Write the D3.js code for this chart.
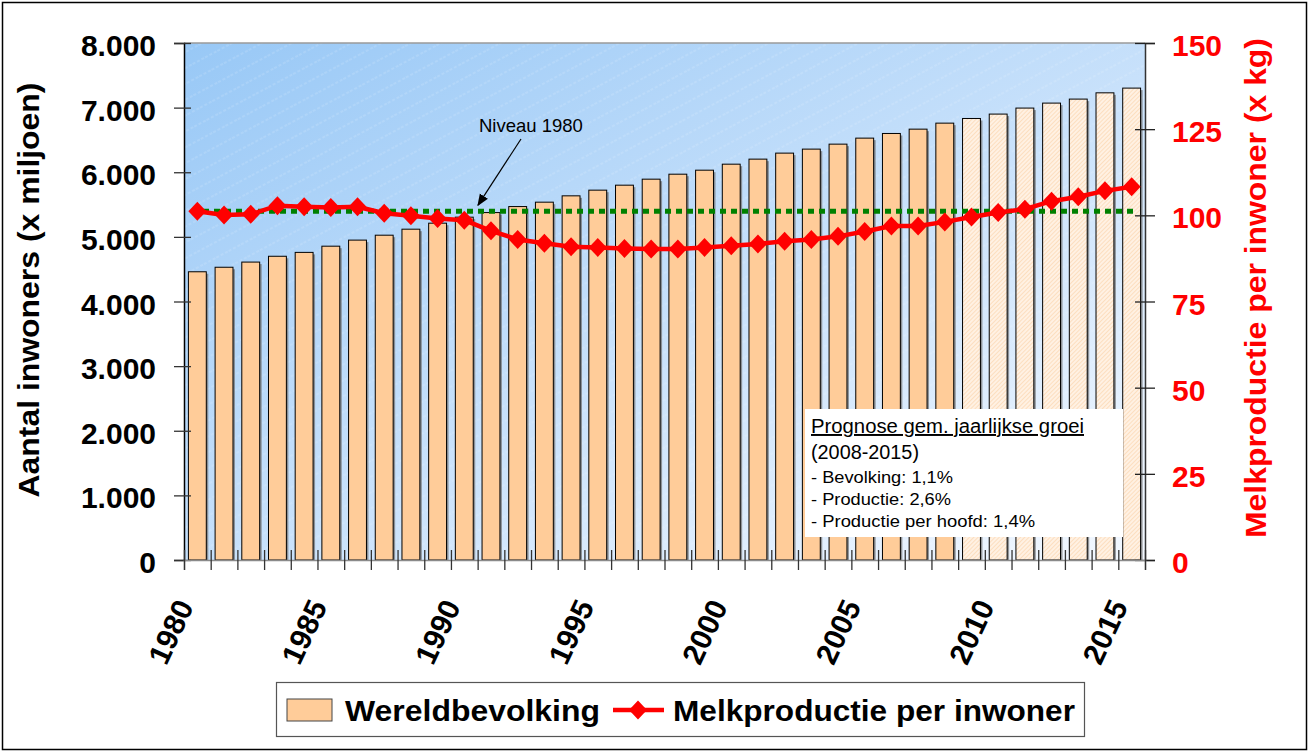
<!DOCTYPE html>
<html>
<head>
<meta charset="utf-8">
<script src="https://cdn.jsdelivr.net/npm/d3@7/dist/d3.min.js"></script>
<style>
  html, body { margin: 0; padding: 0; background: #fff; }
  svg { display: block; font-family: Arial, "Liberation Sans", sans-serif; }
</style>
</head>
<body>
<svg id="chart" width="1312" height="753"></svg>
<script>
// ---- data ----
const years = [1980,1981,1982,1983,1984,1985,1986,1987,1988,1989,1990,1991,1992,1993,1994,1995,1996,1997,1998,1999,2000,2001,2002,2003,2004,2005,2006,2007,2008,2009,2010,2011,2012,2013,2014,2015];
const population = [4460,4530,4610,4700,4760,4856,4950,5026,5119,5212,5305,5376,5469,5537,5635,5723,5800,5893,5970,6032,6125,6203,6296,6358,6435,6528,6600,6667,6760,6832,6900,6993,7070,7132,7229,7302];
const milkPerCapita = [101.2,100.1,100.3,102.8,102.5,102.3,102.5,100.6,99.9,99.1,98.6,95.5,93.0,91.9,90.9,90.7,90.4,90.2,90.2,90.7,91.2,91.7,92.5,93.0,93.9,95.3,96.9,96.9,98.1,99.5,100.8,101.8,104.1,105.4,107.1,108.3];
const forecastFrom = 2009;
const labelYears = [1980,1985,1990,1995,2000,2005,2010,2015];
const leftTicks = [0,1000,2000,3000,4000,5000,6000,7000,8000];
const rightTicks = [0,25,50,75,100,125,150];
const seriesNames = ["Wereldbevolking", "Melkproductie per inwoner"];
const annotationLabel = "Niveau 1980";
const noteLines = ["Prognose gem. jaarlijkse groei", "(2008-2015)", "- Bevolking: 1,1%", "- Productie: 2,6%", "- Productie per hoofd: 1,4%"];
const leftTitle = "Aantal inwoners (x miljoen)";
const rightTitle = "Melkproductie per inwoner (x kg)";

// ---- layout ----
const PL = 184, PR = 1145, PT = 43, PB = 560;
const svg = d3.select("#chart");
const nl = d3.formatLocale({decimal: ",", thousands: ".", grouping: [3], currency: ["", ""]});
const fmtThousands = nl.format(",d");

const x = d3.scaleBand().domain(years).range([PL, PR]).paddingInner(0.33).paddingOuter(0.165);
const xl = d3.scaleLinear().domain([0, years.length]).range([PL, PR]);
const yL = d3.scaleLinear().domain([0, 8000]).range([PB, PT]);
const yR = d3.scaleLinear().domain([0, 150]).range([PB, PT]);

const defs = svg.append("defs");
const grad = defs.append("linearGradient").attr("id", "bg").attr("x1", "0").attr("y1", "0").attr("x2", "1").attr("y2", "1");
grad.append("stop").attr("offset", "0").attr("stop-color", "#98c8f6");
grad.append("stop").attr("offset", "0.55").attr("stop-color", "#cae2fb");
grad.append("stop").attr("offset", "1").attr("stop-color", "#f3f8ff");

const stripes = defs.append("pattern").attr("id", "stripes").attr("patternUnits", "userSpaceOnUse")
  .attr("width", 14).attr("height", 14).attr("patternTransform", "rotate(-28)");
stripes.append("line").attr("x1", 0).attr("y1", 7).attr("x2", 14).attr("y2", 7)
  .attr("stroke", "#ffffff").attr("stroke-width", 0.7).attr("stroke-opacity", 0.35).attr("stroke-dasharray", "3,2");

const hatch = defs.append("pattern").attr("id", "hatch").attr("patternUnits", "userSpaceOnUse")
  .attr("width", 3).attr("height", 3).attr("patternTransform", "rotate(45)");
hatch.append("rect").attr("width", 3).attr("height", 3).attr("fill", "#fff1e3");
hatch.append("line").attr("x1", 0).attr("y1", 0).attr("x2", 0).attr("y2", 3)
  .attr("stroke", "#fcd6b0").attr("stroke-width", 1.4);

const arrowM = defs.append("marker").attr("id", "arrow").attr("viewBox", "0 0 10 10")
  .attr("refX", 9).attr("refY", 5).attr("markerWidth", 12).attr("markerHeight", 12)
  .attr("markerUnits", "userSpaceOnUse").attr("orient", "auto");
arrowM.append("path").attr("d", "M0,1 L10,5 L0,9 Z").attr("fill", "#000");

// outer frame
svg.append("rect").attr("x", 2.5).attr("y", 2.5).attr("width", 1304).attr("height", 747)
  .attr("fill", "none").attr("stroke", "#000").attr("stroke-width", 1.5);

// plot background
svg.append("rect").attr("x", PL).attr("y", PT).attr("width", PR - PL).attr("height", PB - PT).attr("fill", "url(#bg)");
svg.append("rect").attr("x", PL).attr("y", PT).attr("width", PR - PL).attr("height", PB - PT).attr("fill", "url(#stripes)");
svg.append("line").attr("x1", PL).attr("x2", PR).attr("y1", PT).attr("y2", PT).attr("stroke", "#9a9a9a").attr("stroke-width", 1.5);

// bars
const bars = svg.append("g");
bars.selectAll("rect.shadow").data(years).join("rect").attr("class", "shadow")
  .attr("x", d => x(d) + 2).attr("y", (d, i) => yL(population[i]) + 2)
  .attr("width", x.bandwidth()).attr("height", (d, i) => PB - yL(population[i]) - 2)
  .attr("fill", "#6e6e6e").attr("opacity", 0.7);
bars.selectAll("rect.bar").data(years).join("rect").attr("class", "bar")
  .attr("x", d => x(d)).attr("y", (d, i) => yL(population[i]))
  .attr("width", x.bandwidth()).attr("height", (d, i) => PB - yL(population[i]))
  .attr("fill", d => d >= forecastFrom ? "url(#hatch)" : "#ffcc99")
  .attr("stroke", "#000").attr("stroke-width", 1);

// note box
const noteG = svg.append("g");
noteG.append("rect").attr("x", 805).attr("y", 409).attr("width", 318).attr("height", 128).attr("fill", "#fff");
const noteSizes = [19.5, 19.5, 16.5, 16.5, 16.5];
const noteLens = [273, 108, 142, 140, 224];
const noteBase = [433, 459, 483, 505, 527];
noteLines.forEach((t, i) => {
  noteG.append("text").attr("x", 811).attr("y", noteBase[i]).attr("font-size", noteSizes[i])
    .attr("textLength", noteLens[i]).attr("lengthAdjust", "spacingAndGlyphs")
    .attr("fill", "#000").attr("text-decoration", i === 0 ? "underline" : null).text(t);
});

// niveau 1980 line
svg.append("line").attr("x1", PL + 8).attr("x2", PR - 10)
  .attr("y1", yR(milkPerCapita[0])).attr("y2", yR(milkPerCapita[0]))
  .attr("stroke", "#008000").attr("stroke-width", 5).attr("stroke-dasharray", "6,5");

// milk line
const line = d3.line().x((d, i) => x(years[i]) + x.bandwidth() / 2).y(d => yR(d));
svg.append("path").datum(milkPerCapita).attr("d", line).attr("fill", "none")
  .attr("stroke", "#ff0000").attr("stroke-width", 4.5).attr("stroke-linejoin", "round");
const diamond = "M0,-9.5 L9,0 L0,9.5 L-9,0 Z";
svg.append("g").selectAll("path").data(milkPerCapita).join("path")
  .attr("transform", (d, i) => `translate(${x(years[i]) + x.bandwidth() / 2},${yR(d)})`)
  .attr("d", diamond).attr("fill", "#ff0000");

// annotation
svg.append("text").attr("x", 479).attr("y", 132).attr("font-size", 18.5).attr("fill", "#000").text(annotationLabel);
svg.append("line").attr("x1", 521).attr("y1", 139).attr("x2", 478).attr("y2", yR(milkPerCapita[0]) - 6)
  .attr("stroke", "#000").attr("stroke-width", 1.2).attr("marker-end", "url(#arrow)");

// left axis
const gL = svg.append("g").attr("transform", `translate(${PL},0)`)
  .call(d3.axisLeft(yL).tickValues(leftTicks).tickFormat(fmtThousands).tickSize(10).tickPadding(18));
gL.select(".domain").attr("stroke", "#000").attr("stroke-width", 1.5);
gL.selectAll(".tick line").attr("x1", 7).attr("x2", -10).attr("stroke", "#333").attr("stroke-width", 1.3);
gL.selectAll(".tick text").attr("font-size", 30).attr("font-weight", "bold").attr("fill", "#000")
  .attr("font-family", "Arial, 'Liberation Sans', sans-serif").attr("dy", "0.42em");

// right axis
const gR = svg.append("g").attr("transform", `translate(${PR},0)`)
  .call(d3.axisRight(yR).tickValues(rightTicks).tickSize(10).tickPadding(17));
gR.select(".domain").attr("stroke", "#333").attr("stroke-width", 1.5);
gR.selectAll(".tick line").attr("x1", -10).attr("x2", 10).attr("stroke", "#222").attr("stroke-width", 1.3);
gR.selectAll(".tick text").attr("font-size", 30).attr("font-weight", "bold").attr("fill", "#ff0000")
  .attr("font-family", "Arial, 'Liberation Sans', sans-serif").attr("dy", "0.42em");

// bottom axis (ticks at category boundaries)
const gB = svg.append("g").attr("transform", `translate(0,${PB})`)
  .call(d3.axisBottom(xl).tickValues(d3.range(years.length + 1)).tickFormat("").tickSize(10));
gB.select(".domain").attr("stroke", "#8a8a8a").attr("stroke-width", 1.5);
gB.selectAll(".tick line").attr("y1", -10).attr("y2", 10).attr("stroke", "#333").attr("stroke-width", 1.3);

svg.append("g").selectAll("text").data(labelYears).join("text")
  .attr("transform", d => `translate(${x(d) + x.bandwidth() / 2 - 3},${PB + 46}) rotate(-65)`)
  .attr("text-anchor", "end").attr("font-size", 30).attr("font-weight", "bold").attr("fill", "#000")
  .text(d => d);

// axis titles
svg.append("text").attr("transform", `translate(39,290) rotate(-90)`).attr("text-anchor", "middle")
  .attr("font-size", 30).attr("font-weight", "bold").attr("fill", "#000")
  .attr("textLength", 415).attr("lengthAdjust", "spacingAndGlyphs").text(leftTitle);
svg.append("text").attr("transform", `translate(1266,288) rotate(-90)`).attr("text-anchor", "middle")
  .attr("font-size", 30).attr("font-weight", "bold").attr("fill", "#ff0000")
  .attr("textLength", 500).attr("lengthAdjust", "spacingAndGlyphs").text(rightTitle);

// legend
const lg = svg.append("g");
lg.append("rect").attr("x", 276.5).attr("y", 682.5).attr("width", 808).attr("height", 54)
  .attr("fill", "#fff").attr("stroke", "#555").attr("stroke-width", 1.2);
lg.append("rect").attr("x", 287).attr("y", 699).attr("width", 45).attr("height", 22)
  .attr("fill", "#ffcc99").attr("stroke", "#444").attr("stroke-width", 1);
lg.append("text").attr("x", 345).attr("y", 721).attr("font-size", 30).attr("font-weight", "bold")
  .attr("textLength", 255).attr("lengthAdjust", "spacingAndGlyphs").text(seriesNames[0]);
lg.append("line").attr("x1", 613).attr("x2", 664).attr("y1", 710).attr("y2", 710)
  .attr("stroke", "#ff0000").attr("stroke-width", 4.5);
lg.append("path").attr("transform", "translate(638,710)").attr("d", diamond).attr("fill", "#ff0000");
lg.append("text").attr("x", 673).attr("y", 721).attr("font-size", 30).attr("font-weight", "bold")
  .attr("textLength", 402).attr("lengthAdjust", "spacingAndGlyphs").text(seriesNames[1]);
</script>
</body>
</html>
